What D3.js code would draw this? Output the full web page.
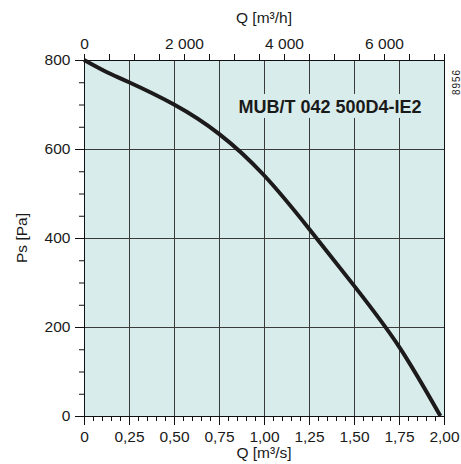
<!DOCTYPE html>
<html>
<head>
<meta charset="utf-8">
<script src="https://cdn.jsdelivr.net/npm/d3@7"></script>
<style>
  body { margin: 0; background: #fff; }
  text { font-family: "Liberation Sans", Arial, sans-serif; fill: #1a1a1a; }
</style>
</head>
<body>
<div id="vis"></div>
<script>
// fan curve
const flowM3s = [0, 0.125, 0.25, 0.5, 0.75, 1.0, 1.25, 1.5, 1.75, 1.98];
const pressurePa = [800, 773, 750, 700, 634, 541, 421, 293, 156, 0];

const bottomTicks = [0, 0.25, 0.5, 0.75, 1.0, 1.25, 1.5, 1.75, 2.0];
const bottomLabels = ["0", "0,25", "0,50", "0,75", "1,00", "1,25", "1,50", "1,75", "2,00"];
const topTicks = [0, 2000, 4000, 6000];
const topLabels = ["0", "2 000", "4 000", "6 000"];
const leftTicks = [0, 200, 400, 600, 800];

const title = "MUB/T 042 500D4-IE2";
const drawingNo = "8956";

////////////////////////////////////////
/////////////// Defaults ///////////////
////////////////////////////////////////

const options = {
  width: 461,
  height: 464,
  margin: { top: 60, right: 17, bottom: 48, left: 84 },
  fill: "#d8edeb",
  grid: "#3a3a3a",
  curve: "#1c1a1a",
};

const width = options.width - options.margin.left - options.margin.right;
const height = options.height - options.margin.top - options.margin.bottom;

////////////////////////////////////////
////////////// SVG Setup ///////////////
////////////////////////////////////////

const root = d3
  .select("#vis")
  .append("svg")
  .attr("width", options.width)
  .attr("height", options.height);

const svg = root
  .append("g")
  .attr("transform", `translate(${options.margin.left},${options.margin.top})`);

////////////////////////////////////////
////////////// Scales //////////////////
////////////////////////////////////////

const x = d3.scaleLinear().domain([0, 2]).range([0, width]);
// same axis in m3/h
const xh = d3.scaleLinear().domain([0, 7200]).range([0, width]);
const y = d3.scaleLinear().domain([0, 800]).range([height, 0]);

////////////////////////////////////////
////////////// Grid ////////////////////
////////////////////////////////////////

svg.append("rect")
  .attr("width", width)
  .attr("height", height)
  .attr("fill", options.fill);

svg.selectAll(".vgrid")
  .data(bottomTicks.slice(1, -1))
  .join("line")
  .attr("x1", (d) => Math.round(x(d)) + 0.5)
  .attr("x2", (d) => Math.round(x(d)) + 0.5)
  .attr("y1", 0)
  .attr("y2", height)
  .attr("stroke", options.grid);

svg.selectAll(".hgrid")
  .data(leftTicks.slice(1, -1))
  .join("line")
  .attr("x1", 0)
  .attr("x2", width)
  .attr("y1", (d) => Math.round(y(d)) + 0.5)
  .attr("y2", (d) => Math.round(y(d)) + 0.5)
  .attr("stroke", options.grid);

// title box covers the grid
const titleG = svg.append("g");
const titleBox = titleG.append("rect").attr("fill", options.fill);
const titleText = titleG.append("text")
  .attr("x", x(1.367))
  .attr("y", y(681))
  .attr("text-anchor", "middle")
  .attr("font-size", 18)
  .attr("font-weight", "bold")
  .text(title);
const bb = titleText.node().getBBox();
titleBox
  .attr("x", bb.x - 3)
  .attr("y", bb.y - 3)
  .attr("width", bb.width + 6)
  .attr("height", bb.height + 4);

////////////////////////////////////////
////////////// Axes ////////////////////
////////////////////////////////////////

const axisBottom = svg.append("g").attr("transform", `translate(0,${height})`);
axisBottom.call(d3.axisBottom(x).tickValues(d3.range(0, 2.001, 0.05)).tickSize(5).tickFormat(""));
axisBottom.append("g").call(d3.axisBottom(x).tickValues(bottomTicks).tickSize(9).tickFormat((d, i) => bottomLabels[i]));

const axisTop = svg.append("g");
axisTop.call(d3.axisTop(xh).tickValues(d3.range(0, 7001, 500)).tickSize(6).tickFormat(""));
axisTop.append("g").call(d3.axisTop(xh).tickValues(topTicks).tickSize(6).tickFormat((d, i) => topLabels[i]));

const axisLeft = svg.append("g");
axisLeft.call(d3.axisLeft(y).tickValues(d3.range(0, 801, 50)).tickSize(5).tickFormat(""));
axisLeft.append("g").call(d3.axisLeft(y).tickValues(leftTicks).tickSize(9).tickFormat(d3.format("d")));

[axisBottom, axisTop, axisLeft].forEach((g) => {
  g.selectAll(".domain").attr("stroke", "#111");
  g.selectAll(".tick line").attr("stroke", "#111");
  g.selectAll(".tick text")
    .attr("font-size", 15.5)
    .attr("font-family", "Liberation Sans, Arial, sans-serif")
    .attr("fill", "#1a1a1a");
});
axisBottom.selectAll(".tick text").attr("dy", "0.9em");
axisTop.selectAll(".tick text").attr("dy", "-0.1em");
axisLeft.selectAll(".tick text").attr("dx", "-0.1em");

// right border
svg.append("line")
  .attr("x1", width + 0.5).attr("x2", width + 0.5)
  .attr("y1", 0).attr("y2", height)
  .attr("stroke", "#111");

////////////////////////////////////////
////////////// Curve ///////////////////
////////////////////////////////////////

const points = flowM3s.map((q, i) => ({ q: q, p: pressurePa[i] }));

const line = d3.line()
  .x((d) => x(d.q))
  .y((d) => y(d.p))
  .curve(d3.curveNatural);

svg.append("path")
  .datum(points)
  .attr("d", line)
  .attr("fill", "none")
  .attr("stroke", options.curve)
  .attr("stroke-width", 4)
  .attr("stroke-linecap", "butt");

////////////////////////////////////////
////////////// Labels //////////////////
////////////////////////////////////////

root.append("text")
  .attr("x", options.margin.left + width / 2)
  .attr("y", 23)
  .attr("text-anchor", "middle")
  .attr("font-size", 15.5)
  .text("Q [m³/h]");

root.append("text")
  .attr("x", options.margin.left + width / 2)
  .attr("y", 458)
  .attr("text-anchor", "middle")
  .attr("font-size", 15.5)
  .text("Q [m³/s]");

root.append("text")
  .attr("transform", `translate(27,${options.margin.top + height / 2}) rotate(-90)`)
  .attr("text-anchor", "middle")
  .attr("font-size", 15.5)
  .text("Ps [Pa]");

root.append("text")
  .attr("transform", `translate(460,95) rotate(-90)`)
  .attr("font-size", 10)
  .attr("textLength", 25)
  .text(drawingNo);
</script>
</body>
</html>
